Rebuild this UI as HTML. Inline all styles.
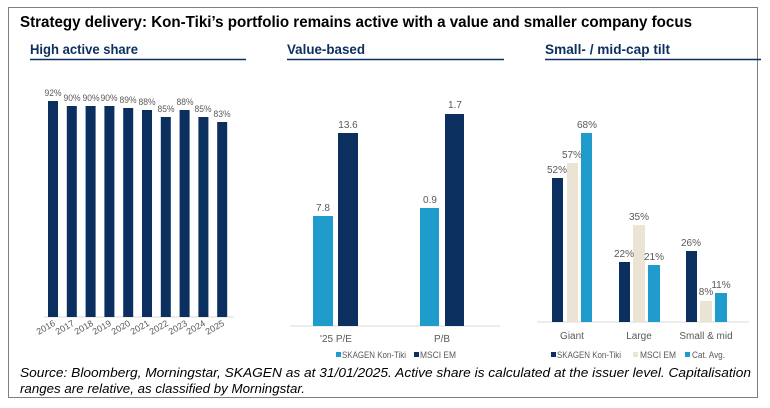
<!DOCTYPE html>
<html><head><meta charset="utf-8"><style>
body{margin:0;background:#fff;width:770px;height:408px;overflow:hidden}
svg{display:block}
text{font-family:"Liberation Sans",Arial,sans-serif}
</style></head><body>
<svg width="770" height="408" viewBox="0 0 770 408">
<rect x="8.5" y="7.5" width="749" height="390" fill="#fff" stroke="#7f7f7f" stroke-width="1"/>
<text x="20" y="27" font-size="15.5" font-weight="bold" fill="#000" textLength="672" lengthAdjust="spacingAndGlyphs">Strategy delivery: Kon-Tiki’s portfolio remains active with a value and smaller company focus</text>
<g font-size="14" font-weight="bold" fill="#0b2f5e">
<text x="30" y="54" textLength="108" lengthAdjust="spacingAndGlyphs">High active share</text>
<text x="287" y="54" textLength="78" lengthAdjust="spacingAndGlyphs">Value-based</text>
<text x="545" y="54" textLength="125" lengthAdjust="spacingAndGlyphs">Small- / mid-cap tilt</text>
</g>
<g stroke="#0b2f5e" stroke-width="1.5">
<line x1="30" y1="59.5" x2="246" y2="59.5"/><line x1="287" y1="59.5" x2="504" y2="59.5"/><line x1="545" y1="59.5" x2="761" y2="59.5"/>
</g>
<!-- chart 1 -->
<line x1="44" y1="317" x2="234" y2="317" stroke="#d9d9d9"/>
<g fill="#0b2f5e">
<rect x="48" y="101" width="10" height="216"/>
<rect x="66.8" y="106" width="10" height="211"/>
<rect x="85.6" y="106" width="10" height="211"/>
<rect x="104.4" y="106" width="10" height="211"/>
<rect x="123.2" y="108" width="10" height="209"/>
<rect x="142" y="110" width="10" height="207"/>
<rect x="160.8" y="117" width="10" height="200"/>
<rect x="179.6" y="110" width="10" height="207"/>
<rect x="198.4" y="117" width="10" height="200"/>
<rect x="217.2" y="122" width="10" height="195"/>
</g>
<g font-size="9.5" fill="#595959" text-anchor="middle">
<text x="53" y="96" textLength="17" lengthAdjust="spacingAndGlyphs">92%</text><text x="72" y="101" textLength="17" lengthAdjust="spacingAndGlyphs">90%</text><text x="91" y="101" textLength="17" lengthAdjust="spacingAndGlyphs">90%</text><text x="109" y="101" textLength="17" lengthAdjust="spacingAndGlyphs">90%</text><text x="128" y="103" textLength="17" lengthAdjust="spacingAndGlyphs">89%</text><text x="147" y="105" textLength="17" lengthAdjust="spacingAndGlyphs">88%</text><text x="166" y="112" textLength="17" lengthAdjust="spacingAndGlyphs">85%</text><text x="185" y="105" textLength="17" lengthAdjust="spacingAndGlyphs">88%</text><text x="203" y="112" textLength="17" lengthAdjust="spacingAndGlyphs">85%</text><text x="222" y="117" textLength="17" lengthAdjust="spacingAndGlyphs">83%</text>
</g>
<g font-size="9" fill="#595959" text-anchor="end">
<text transform="translate(56,325) rotate(-30)" textLength="20" lengthAdjust="spacingAndGlyphs">2016</text>
<text transform="translate(75,325) rotate(-30)" textLength="20" lengthAdjust="spacingAndGlyphs">2017</text>
<text transform="translate(94,325) rotate(-30)" textLength="20" lengthAdjust="spacingAndGlyphs">2018</text>
<text transform="translate(112,325) rotate(-30)" textLength="20" lengthAdjust="spacingAndGlyphs">2019</text>
<text transform="translate(131,325) rotate(-30)" textLength="20" lengthAdjust="spacingAndGlyphs">2020</text>
<text transform="translate(150,325) rotate(-30)" textLength="20" lengthAdjust="spacingAndGlyphs">2021</text>
<text transform="translate(169,325) rotate(-30)" textLength="20" lengthAdjust="spacingAndGlyphs">2022</text>
<text transform="translate(188,325) rotate(-30)" textLength="20" lengthAdjust="spacingAndGlyphs">2023</text>
<text transform="translate(206,325) rotate(-30)" textLength="20" lengthAdjust="spacingAndGlyphs">2024</text>
<text transform="translate(225,325) rotate(-30)" textLength="20" lengthAdjust="spacingAndGlyphs">2025</text>
</g>
<!-- chart 2 -->
<line x1="290" y1="326" x2="500" y2="326" stroke="#d9d9d9"/>
<rect x="313" y="216" width="20" height="110" fill="#1f9ccc"/>
<rect x="338" y="133" width="20" height="193" fill="#0b2f5e"/>
<rect x="420" y="208" width="19" height="118" fill="#1f9ccc"/>
<rect x="445" y="114" width="19" height="212" fill="#0b2f5e"/>
<g font-size="10" fill="#595959" text-anchor="middle">
<text x="323" y="211">7.8</text><text x="348" y="128">13.6</text><text x="430" y="203">0.9</text><text x="455" y="108">1.7</text>
<text x="336" y="342">'25 P/E</text><text x="442" y="342">P/B</text>
</g>
<g font-size="9" fill="#595959">
<rect x="336" y="352" width="5" height="5" fill="#1f9ccc"/><text x="342" y="358" textLength="64" lengthAdjust="spacingAndGlyphs">SKAGEN Kon-Tiki</text>
<rect x="414" y="352" width="5" height="5" fill="#0b2f5e"/><text x="420" y="358" textLength="36" lengthAdjust="spacingAndGlyphs">MSCI EM</text>
</g>
<!-- chart 3 -->
<line x1="537" y1="322" x2="749" y2="322" stroke="#d9d9d9"/>
<g fill="#0b2f5e"><rect x="552" y="178" width="11" height="144"/><rect x="619" y="262" width="11" height="60"/><rect x="686" y="251" width="11" height="71"/></g>
<g fill="#ebe4d4"><rect x="567" y="163" width="11" height="159"/><rect x="633" y="225" width="12" height="97"/><rect x="700" y="301" width="12" height="21"/></g>
<g fill="#1f9ccc"><rect x="581" y="133" width="11" height="189"/><rect x="648" y="265" width="12" height="57"/><rect x="715" y="293" width="12" height="29"/></g>
<g font-size="10" fill="#595959" text-anchor="middle">
<text x="557" y="173">52%</text><text x="572" y="158">57%</text><text x="587" y="128">68%</text>
<text x="624" y="257">22%</text><text x="639" y="220">35%</text><text x="654" y="260">21%</text>
<text x="691" y="246">26%</text><text x="706" y="295">8%</text><text x="721" y="288">11%</text>
<text x="572" y="339">Giant</text><text x="639" y="339">Large</text><text x="706" y="339">Small &amp; mid</text>
</g>
<g font-size="9" fill="#595959">
<rect x="551" y="352" width="5" height="5" fill="#0b2f5e"/><text x="557" y="358" textLength="64" lengthAdjust="spacingAndGlyphs">SKAGEN Kon-Tiki</text>
<rect x="633" y="352" width="5" height="5" fill="#ebe4d4"/><text x="640" y="358" textLength="36" lengthAdjust="spacingAndGlyphs">MSCI EM</text>
<rect x="685" y="352" width="5" height="5" fill="#1f9ccc"/><text x="692" y="358" textLength="33" lengthAdjust="spacingAndGlyphs">Cat. Avg.</text>
</g>
<g font-size="13" font-style="italic" fill="#000">
<text x="20" y="377" textLength="731" lengthAdjust="spacingAndGlyphs">Source: Bloomberg, Morningstar, SKAGEN as at 31/01/2025. Active share is calculated at the issuer level. Capitalisation</text>
<text x="20" y="393" textLength="285" lengthAdjust="spacingAndGlyphs">ranges are relative, as classified by Morningstar.</text>
</g>
</svg>
</body></html>
